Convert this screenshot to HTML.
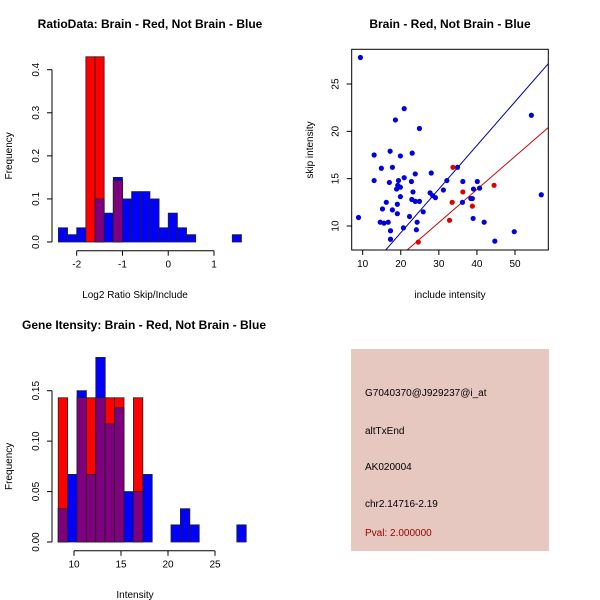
<!DOCTYPE html>
<html><head><meta charset="utf-8"><style>
body{margin:0;background:#fff}
svg{display:block;font-family:"Liberation Sans",Arial,sans-serif}
</style></head><body>
<svg id="c" width="600" height="600" viewBox="0 0 600 600">
<rect x="0" y="0" width="600" height="600" fill="#fff"/>
</svg>
<script>
// ---- Panel 1: ratio histogram ----
const ratioBinStart = -2.4;
const ratioBinWidth = 0.2;
const ratioBlue = [0.033,0.017,0.033,0,0.1,0.067,0.15,0.1,0.117,0.117,0.1,0.033,0.067,0.033,0.017,0,0,0,0,0.017];
const ratioRed  = [0,0,0,0.43,0.43,0,0.143,0,0,0,0,0,0,0,0,0,0,0,0,0];
const ratioXTicks = [-2,-1,0,1];
const ratioYTicks = [0.0,0.1,0.2,0.3,0.4];
// ---- Panel 2: scatter ----
const blueInclude = [9.4,8.9,13,13,14.9,14.6,15.2,15.6,16.2,16.7,17.2,17,17.3,17.3,17.8,17.8,18.6,19.9,19.4,19.2,18.9,19.9,19.9,19.1,19.1,20.9,20.9,20.7,23,22.8,23.2,22.9,23.8,22.3,23.8,24.9,24.9,24.3,24.1,25.9,28,27.7,28.4,29.1,31.2,32.1,34.9,36.3,36.2,38.4,38.8,39.1,40.1,40.7,39,41.9,44.7,49.8,54.3,56.9];
const blueSkip    = [27.8,10.9,17.5,14.8,16.1,10.4,11.8,10.3,12.5,10.4,17.9,14.6,9.5,8.6,16.2,11.7,21.2,17.4,14.8,14.3,13.9,14.1,13.1,12.3,11.3,22.4,15.1,9.8,17.7,14.7,13.6,12.8,12.6,11,15.5,20.3,12.6,10.4,9.6,11.5,15.6,13.5,13.2,13,13.8,14.8,16.2,14.7,12.5,12.9,12.9,13.9,14.7,14,10.8,10.4,8.4,9.4,21.7,13.3];
const redInclude  = [33.7,33.5,36.3,32.8,38.8,44.5,24.6];
const redSkip     = [16.2,12.5,13.6,10.6,12.1,14.3,8.3];
const blueSlope = 0.461, blueIntercept = 0.07;
const redSlope = 0.349, redIntercept = -0.1;
const scatterXTicks = [10,20,30,40,50];
const scatterYTicks = [10,15,20,25];
// ---- Panel 3: intensity histogram ----
const intBinStart = 8.32;
const intBinWidth = 1;
const intBlue = [0.033,0.067,0.15,0.067,0.183,0.117,0.133,0.05,0.05,0.067,0,0,0.017,0.033,0.017,0,0,0,0,0.017];
const intRed  = [0.143,0,0.143,0.143,0.143,0.143,0.143,0,0.143,0,0,0,0,0,0,0,0,0,0,0];
const intXTicks = [10,15,20,25];
const intYTicks = [0.00,0.05,0.10,0.15];

const svg = document.getElementById('c');
const NS = 'http://www.w3.org/2000/svg';
function el(tag, attrs, parent){const e=document.createElementNS(NS,tag);for(const k in attrs)e.setAttribute(k,attrs[k]);(parent||svg).appendChild(e);return e;}
function txt(x,y,s,attrs,parent){const t=el('text',Object.assign({x:x,y:y,'font-size':10,'text-anchor':'middle',fill:'#000'},attrs||{}),parent);t.textContent=s;return t;}
function linear(d0,d1,r0,r1){return v=>r0+(v-d0)*(r1-r0)/(d1-d0);}

function histogram(name, title, titleX, titleY, xlab, xs, ys, binStart, binW, blue, red, xTicks, yTicks, yFmt, xAxisY, xlabY){
  const g = el('g',{});
  
  
  const t = txt(titleX,titleY,title,{'font-size':12,'font-weight':'bold'},g);
  
  
  for(let i=0;i<blue.length;i++){
    const x0=xs(binStart+i*binW), x1=xs(binStart+(i+1)*binW);
    const b=blue[i], r=red[i], m=Math.min(b,r);
    if(b>0){const e=el('rect',{x:x0,y:ys(b),width:x1-x0,height:ys(0)-ys(b),fill:'#0000ff',stroke:'#222','stroke-width':0.8},g);
      
      }
    if(r>0){const e=el('rect',{x:x0,y:ys(r),width:x1-x0,height:ys(0)-ys(r),fill:'#ff0000',stroke:'#222','stroke-width':0.8},g);
      
      }
    if(m>0){const e=el('rect',{x:x0,y:ys(m),width:x1-x0,height:ys(0)-ys(m),fill:'#7f007f',stroke:'#222','stroke-width':0.8},g);
      
      }
  }
  const ax=52;
  el('line',{x1:ax,x2:ax,y1:ys(yTicks[0]),y2:ys(yTicks[yTicks.length-1]),stroke:'#000'},g);
  yTicks.forEach(v=>{el('line',{x1:ax-5,x2:ax,y1:ys(v),y2:ys(v),stroke:'#000'},g);
    const l=txt(0,0,yFmt(v),{transform:`translate(${ax-13},${ys(v)}) rotate(-90)`},g);
    
    });
  el('line',{x1:xs(xTicks[0]),x2:xs(xTicks[xTicks.length-1]),y1:xAxisY,y2:xAxisY,stroke:'#000'},g);
  xTicks.forEach(v=>{el('line',{x1:xs(v),x2:xs(v),y1:xAxisY,y2:xAxisY+5,stroke:'#000'},g);
    const l=txt(xs(v),xAxisY+17,String(v),{},g);
    
    });
  const xl=txt(135,xlabY,xlab,{},g);
  
  
  const yl=txt(0,0,'Frequency',{transform:`translate(12,${(ys(0)+ys(yTicks[yTicks.length-1]))/2}) rotate(-90)`},g);
  
  
}

histogram('ratio-histogram','RatioData: Brain - Red, Not Brain - Blue',150,28,'Log2 Ratio Skip/Include',
  linear(-2,1,76.7,214), linear(0,0.4,242,69.7), ratioBinStart, ratioBinWidth, ratioBlue, ratioRed,
  ratioXTicks, ratioYTicks, v=>v.toFixed(1), 250.7, 298);
histogram('intensity-histogram','Gene Itensity: Brain - Red, Not Brain - Blue',144,329,'Intensity',
  linear(10,25,74,215), linear(0,0.15,542,390.7), intBinStart, intBinWidth, intBlue, intRed,
  intXTicks, intYTicks, v=>v.toFixed(2), 550.7, 598);

(function(){
  const g=el('g',{});
  
  
  const xs=linear(10,50,362.7,515), ys=linear(10,25,226,84);
  const L=351.7,R=548.3,T=49.3,B=250;
  const t=txt(450,28,'Brain - Red, Not Brain - Blue',{'font-size':12,'font-weight':'bold'},g);
  
  
  el('clipPath',{id:'sc'},g);
  el('rect',{x:L,y:T,width:R-L,height:B-T},document.getElementById('sc'));
  const cg=el('g',{'clip-path':'url(#sc)'},g);
  const xmin=5,xmax=65;
  const bl=el('line',{x1:xs(xmin),y1:ys(blueSlope*xmin+blueIntercept),x2:xs(xmax),y2:ys(blueSlope*xmax+blueIntercept),stroke:'#0000aa','stroke-width':1},cg);
  
  
  const rl=el('line',{x1:xs(xmin),y1:ys(redSlope*xmin+redIntercept),x2:xs(xmax),y2:ys(redSlope*xmax+redIntercept),stroke:'#cc0000','stroke-width':1},cg);
  
  
  blueInclude.forEach((v,i)=>{const c=el('circle',{cx:xs(v),cy:ys(blueSkip[i]),r:2.6,fill:'#0000dd'},cg);
    
    });
  redInclude.forEach((v,i)=>{const c=el('circle',{cx:xs(v),cy:ys(redSkip[i]),r:2.6,fill:'#dd0000'},cg);
    
    });
  el('rect',{x:L,y:T,width:R-L,height:B-T,fill:'none',stroke:'#000'},g);
  scatterXTicks.forEach(v=>{el('line',{x1:xs(v),x2:xs(v),y1:B,y2:B+5,stroke:'#000'},g);
    const l=txt(xs(v),B+17,String(v),{},g);
    
    });
  scatterYTicks.forEach(v=>{el('line',{x1:L-5,x2:L,y1:ys(v),y2:ys(v),stroke:'#000'},g);
    const l=txt(0,0,String(v),{transform:`translate(${L-13},${ys(v)}) rotate(-90)`},g);
    
    });
  const xl=txt(450,298,'include intensity',{},g);
  
  
  const yl=txt(0,0,'skip intensity',{transform:`translate(313,150) rotate(-90)`},g);
  
  
})();

(function(){
  const g=el('g',{});
  
  
  el('rect',{x:351,y:349,width:198,height:202,fill:'#e6c8c1'},g);
  const lines=[['G7040370@J929237@i_at',396,'#000','probe-id'],['altTxEnd',434,'#000','event-type'],['AK020004',470,'#000','accession'],['chr2.14716-2.19',507,'#000','location'],['Pval: 2.000000',536,'#990000','p-value']];
  lines.forEach(l=>{const t=txt(365,l[1],l[0],{'text-anchor':'start',fill:l[2]},g);
    
    });
})();
</script>
</body></html>
